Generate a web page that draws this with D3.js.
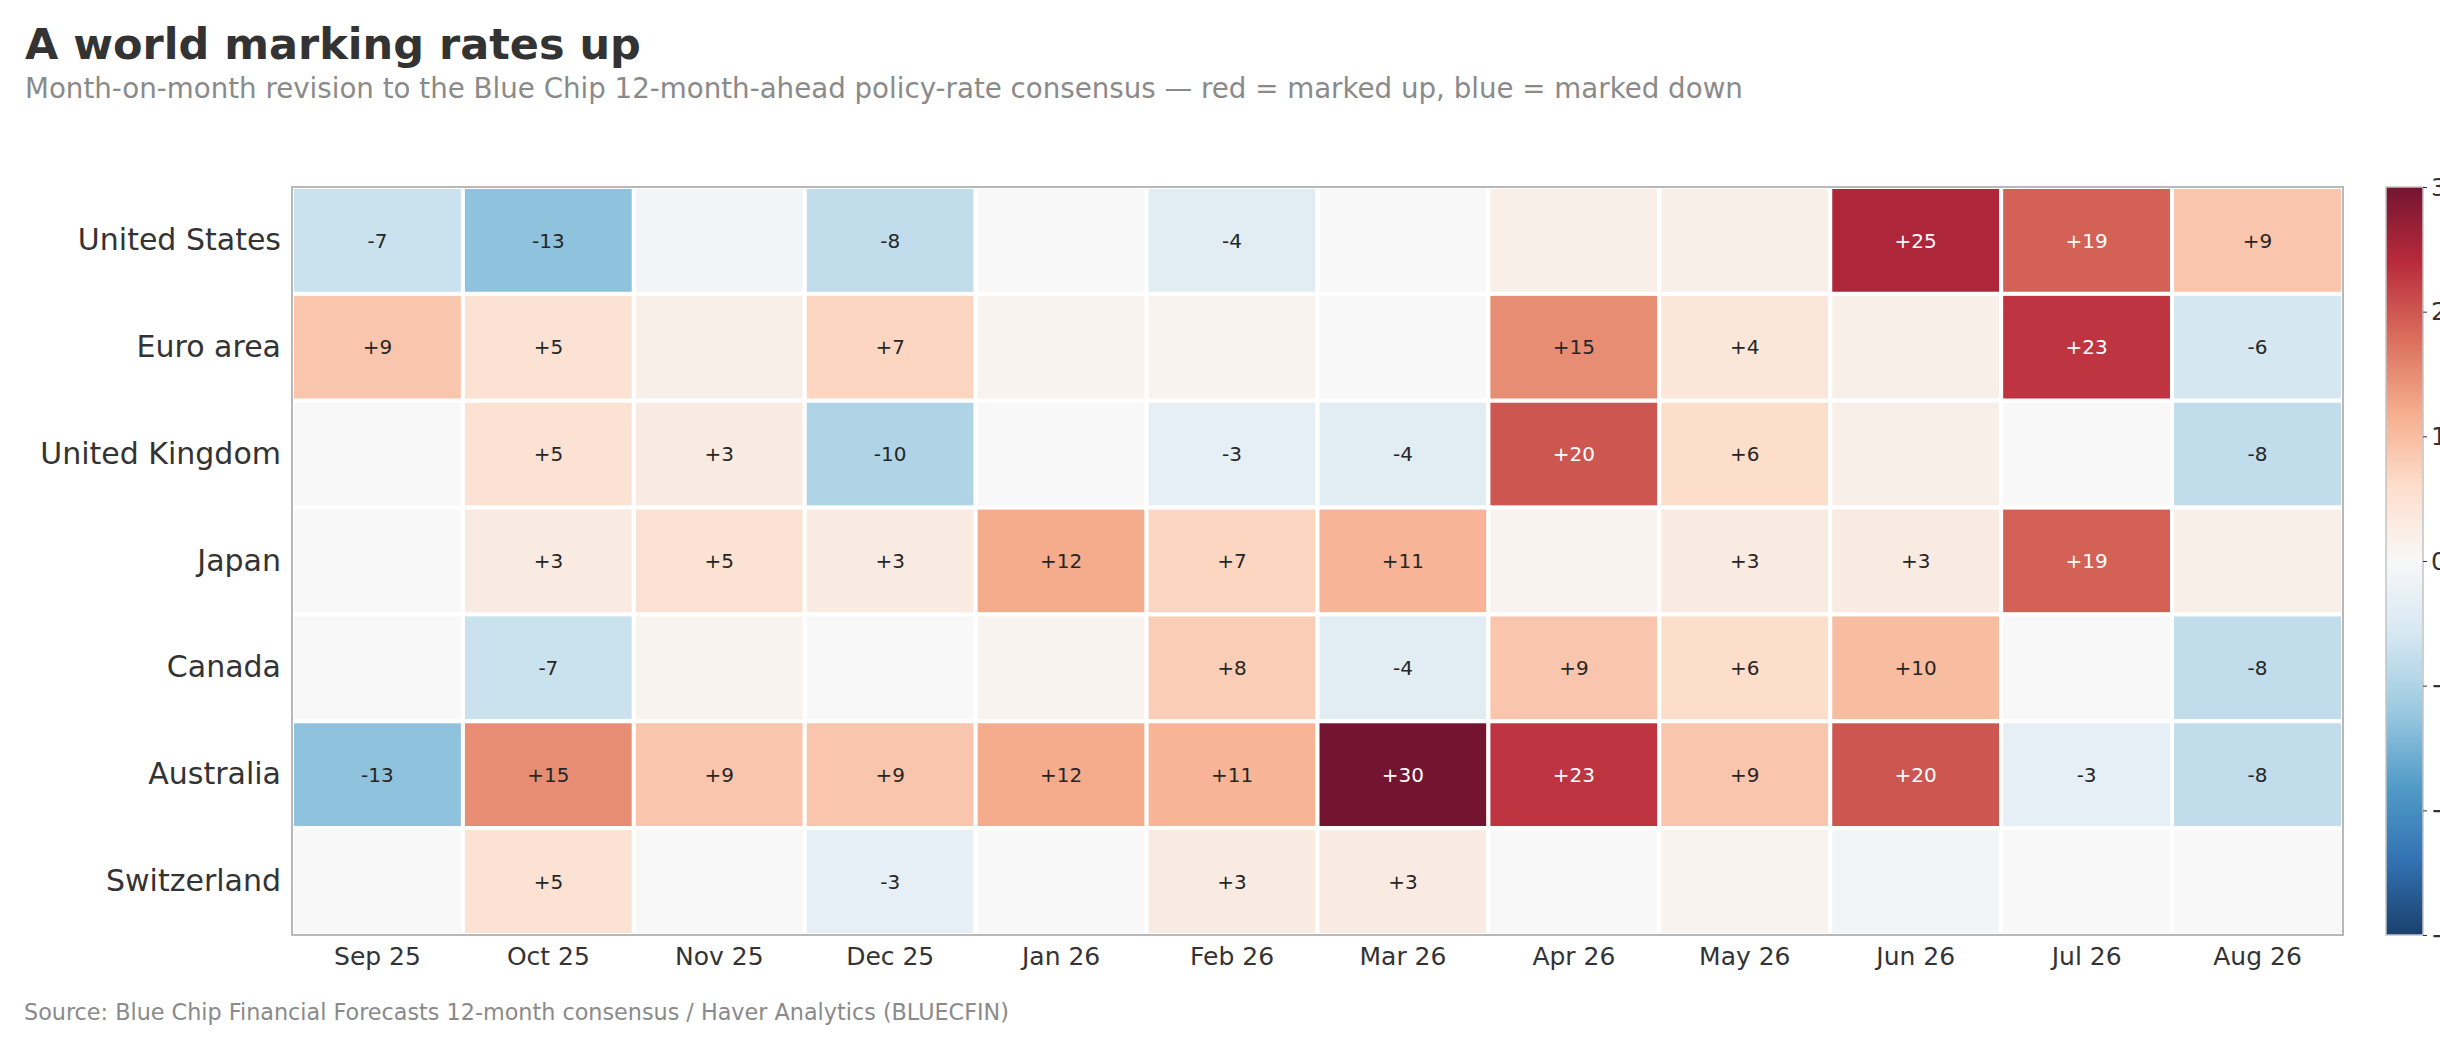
<!DOCTYPE html>
<html>
<head>
<meta charset="utf-8">
<script src="https://cdn.jsdelivr.net/npm/d3@7"></script>
<style>
	body { margin: 0; background: #fff; }
	svg { display: block; font-family: "DejaVu Sans", sans-serif; }
</style>
</head>
<body>
<div id="g-container"></div>
<script>
	var months = ["Sep 25", "Oct 25", "Nov 25", "Dec 25", "Jan 26", "Feb 26", "Mar 26", "Apr 26", "May 26", "Jun 26", "Jul 26", "Aug 26"];
	var countries = ["United States", "Euro area", "United Kingdom", "Japan", "Canada", "Australia", "Switzerland"];

	// revisions in bp, one array per country, Sep 25 .. Aug 26
	var unitedStates = [-7, -13, -1, -8, 0, -4, 0, 2, 2, 25, 19, 9];
	var euroArea = [9, 5, 2, 7, 1, 1, 0, 15, 4, 2, 23, -6];
	var unitedKingdom = [0, 5, 3, -10, 0, -3, -4, 20, 6, 2, 0, -8];
	var japan = [0, 3, 5, 3, 12, 7, 11, 1, 3, 3, 19, 2];
	var canada = [0, -7, 1, 0, 1, 8, -4, 9, 6, 10, 0, -8];
	var australia = [-13, 15, 9, 9, 12, 11, 30, 23, 9, 20, -3, -8];
	var switzerland = [0, 5, 0, -3, 0, 3, 3, 0, 1, -1, 0, 0];

	var series = [unitedStates, euroArea, unitedKingdom, japan, canada, australia, switzerland];
	var colorTicks = [-30, -20, -10, 0, 10, 20, 30];

	var cells = [];
	for (var i = 0; i < countries.length; i++) {
		for (var j = 0; j < months.length; j++) {
			cells.push({ country: countries[i], month: months[j], v: series[i][j] });
		}
	}

	var W = 2440, H = 1040;
	var plot = { left: 292, top: 187, right: 2343, bottom: 935 };

	var svg = d3.select("#g-container").append("svg").attr("width", W).attr("height", H);

	svg.append("text").attr("x", 25).attr("y", 59)
		.text("A world marking rates up")
		.style("font-size", "43px").style("font-weight", "bold").style("fill", "#333");

	svg.append("text").attr("x", 25).attr("y", 98)
		.text("Month-on-month revision to the Blue Chip 12-month-ahead policy-rate consensus \u2014 red = marked up, blue = marked down")
		.style("font-size", "27.7px").style("fill", "#8a8a8a");

	svg.append("text").attr("x", 24).attr("y", 1020)
		.text("Source: Blue Chip Financial Forecasts 12-month consensus / Haver Analytics (BLUECFIN)")
		.style("font-size", "22.3px").style("fill", "#8a8a8a");

	var x = d3.scaleBand().domain(months).range([plot.left, plot.right]).padding(0);
	var y = d3.scaleBand().domain(countries).range([plot.top, plot.bottom]).padding(0);

	// linear RdBu ramp, blue (low) to red (high)
	var rdbu = d3.piecewise(d3.interpolateRgb, ["#053061", "#2166ac", "#4393c3", "#92c5de", "#d1e5f0", "#f7f7f7", "#fddbc7", "#f4a582", "#d6604d", "#b2182b", "#67001f"]);
	var color = d3.scaleSequential(rdbu).domain([-30, 30]);

	var g = svg.append("g");

	g.selectAll("rect.cell").data(cells).enter().append("rect")
		.attr("class", "cell")
		.attr("x", function(d){ return x(d.month) })
		.attr("y", function(d){ return y(d.country) })
		.attr("width", x.bandwidth())
		.attr("height", y.bandwidth())
		.attr("fill", function(d){ return color(d.v) })
		.attr("fill-opacity", 0.92)
		.attr("stroke", "#fff")
		.attr("stroke-width", 4);

	g.selectAll("text.val").data(cells.filter(function(d){ return Math.abs(d.v) >= 3 })).enter().append("text")
		.attr("class", "val")
		.attr("x", function(d){ return x(d.month) + x.bandwidth() / 2 })
		.attr("y", function(d){ return y(d.country) + y.bandwidth() / 2 })
		.attr("dy", "0.36em")
		.attr("text-anchor", "middle")
		.text(function(d){ return (d.v > 0 ? "+" : "-") + Math.abs(d.v) })
		.style("font-size", "20px")
		.style("fill", function(d){ return Math.abs(d.v) >= 17 ? "#fff" : "#262626" });

	svg.append("rect")
		.attr("x", plot.left).attr("y", plot.top)
		.attr("width", plot.right - plot.left).attr("height", plot.bottom - plot.top)
		.attr("fill", "none").attr("stroke", "#b8b8b8").attr("stroke-width", 2);

	var xAxis = svg.append("g").attr("transform", "translate(0," + plot.bottom + ")")
		.call(d3.axisBottom(x).tickSize(0).tickPadding(12));
	xAxis.select(".domain").remove();
	xAxis.selectAll("text").style("font-size", "25px").style("fill", "#333").style("font-family", "DejaVu Sans, sans-serif");

	var yAxis = svg.append("g").attr("transform", "translate(" + plot.left + ",0)")
		.call(d3.axisLeft(y).tickSize(0).tickPadding(11));
	yAxis.select(".domain").remove();
	yAxis.selectAll("text").style("font-size", "30px").style("fill", "#333").style("font-family", "DejaVu Sans, sans-serif");

	// colour bar
	var cb = { left: 2386, width: 37 };
	var cbScale = d3.scaleLinear().domain([-30, 30]).range([plot.bottom, plot.top]);

	var grad = svg.append("defs").append("linearGradient").attr("id", "cbgrad")
		.attr("x1", 0).attr("y1", 1).attr("x2", 0).attr("y2", 0);
	d3.range(0, 1.0001, 0.05).forEach(function(t){
		grad.append("stop").attr("offset", t).attr("stop-color", color(-30 + 60 * t)).attr("stop-opacity", 0.92);
	});

	svg.append("rect")
		.attr("x", cb.left).attr("y", plot.top)
		.attr("width", cb.width).attr("height", plot.bottom - plot.top)
		.attr("fill", "url(#cbgrad)").attr("stroke", "#c4c4c4").attr("stroke-width", 1.5);

	var cAxis = svg.append("g").attr("transform", "translate(" + (cb.left + cb.width) + ",0)")
		.call(d3.axisRight(cbScale).tickValues(colorTicks).tickSize(4).tickPadding(4));
	cAxis.select(".domain").remove();
	cAxis.selectAll("line").attr("stroke", "#333");
	cAxis.selectAll("text").style("font-size", "25px").style("fill", "#333").style("font-family", "DejaVu Sans, sans-serif");
</script>
</body>
</html>
